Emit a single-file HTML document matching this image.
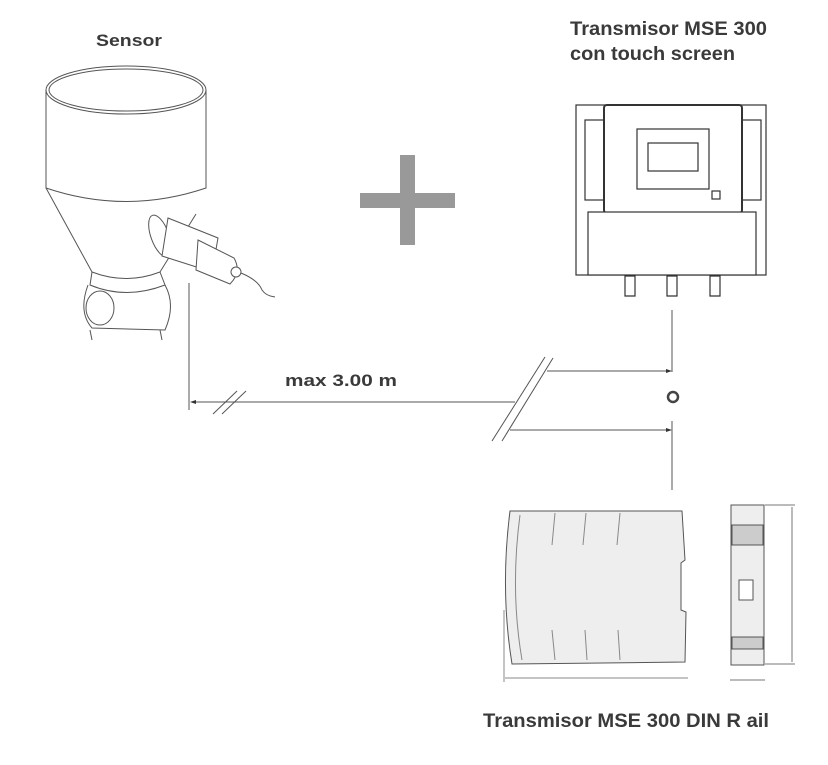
<!DOCTYPE html>
<html><head><meta charset="utf-8"><style>
html,body{margin:0;padding:0;background:#fff;}
svg{display:block;}
text{font-family:"Liberation Sans",sans-serif;font-weight:bold;fill:#3a3a3a;}
</style></head><body>
<svg width="828" height="765" viewBox="0 0 828 765" xmlns="http://www.w3.org/2000/svg">
<text x="96" y="46" font-size="17" textLength="66" lengthAdjust="spacingAndGlyphs">Sensor</text>
<text x="570" y="35" font-size="19" textLength="197" lengthAdjust="spacingAndGlyphs">Transmisor MSE 300</text>
<text x="570" y="60" font-size="19" textLength="165" lengthAdjust="spacingAndGlyphs">con touch screen</text>
<text x="483" y="727" font-size="19" textLength="286" lengthAdjust="spacingAndGlyphs">Transmisor MSE 300 DIN R ail</text>
<text x="285" y="386" font-size="17" textLength="112" lengthAdjust="spacingAndGlyphs">max 3.00 m</text>

<!-- plus -->
<rect x="400" y="155" width="15" height="90" fill="#999"/>
<rect x="360" y="193" width="95" height="15" fill="#999"/>

<!-- sensor -->
<g fill="none" stroke="#555" stroke-width="1">
<path d="M46 90 L46 188 Q126 215 206 188 L206 90" />
<path d="M46 188 L92 272 Q126 285 160 272 L196 214"/>
<ellipse cx="126" cy="90" rx="80" ry="24"/>
<ellipse cx="126" cy="90" rx="77" ry="21"/>
<path d="M92 272 L90 285 Q126 300 165 285 L160 272"/>
<path d="M88 285 Q78 312 92 328 L165 330 Q176 305 165 285"/>
<path d="M90 330 L92 340 M160 330 L162 340"/>
<ellipse cx="100" cy="308" rx="14" ry="17"/>
</g>
<g fill="#fff" stroke="#555" stroke-width="1">
<ellipse cx="160" cy="236" rx="9" ry="22" transform="rotate(-20 160 236)"/>
<path d="M168 218 L218 238 L212 272 L162 256 Z"/>
<path d="M198 240 L234 258 Q242 272 230 284 L196 270 Z"/>
<circle cx="236" cy="272" r="5"/>
<path d="M241 273 Q258 280 262 290 Q266 296 275 297" fill="none"/>
</g>
<line x1="189" y1="283" x2="189" y2="410" stroke="#555"/>

<!-- transmitter wall -->
<g fill="#fff" stroke="#333" stroke-width="1.2">
<rect x="576" y="105" width="190" height="170" fill="#fff"/>
<rect x="585" y="120" width="20" height="80"/>
<rect x="741" y="120" width="20" height="80"/>
<rect x="604" y="105" width="138" height="108" rx="3" stroke-width="2"/>
<rect x="637" y="129" width="72" height="60"/>
<rect x="648" y="143" width="50" height="28"/>
<rect x="712" y="191" width="8" height="8"/>
<rect x="588" y="212" width="168" height="63"/>
<path d="M625 276 h10 v20 h-10 z M667 276 h10 v20 h-10 z M710 276 h10 v20 h-10 z"/>
</g>
<line x1="672" y1="310" x2="672" y2="372" stroke="#555"/>
<line x1="672" y1="421" x2="672" y2="490" stroke="#555"/>
<circle cx="673" cy="397" r="5" fill="none" stroke="#444" stroke-width="2.5"/>

<!-- dimension lines -->
<g stroke="#555" stroke-width="1" fill="none">
<line x1="192" y1="402" x2="515" y2="402"/>
<line x1="213" y1="414" x2="237" y2="391"/>
<line x1="222" y1="414" x2="246" y2="391"/>
<line x1="492" y1="441" x2="545" y2="357"/>
<line x1="502" y1="441" x2="553" y2="358"/>
<line x1="547" y1="371" x2="668" y2="371"/>
<line x1="510" y1="430" x2="668" y2="430"/>
</g>
<path d="M190 402 l6 -2 v4 z M672 371 l-6 -2 v4 z M672 430 l-6 -2 v4 z" fill="#333"/>

<!-- DIN rail -->
<g stroke="#555" stroke-width="1" fill="#eee">
<path d="M510 511 L682 511 L685 560 L681 563 L681 610 L686 612 L685 662 L512 664 Q500 590 510 511 Z"/>
</g>
<g stroke="#888" fill="none">
<path d="M520 515 Q510 590 522 660 M555 513 L552 545 M586 513 L583 545 M620 513 L617 545 M552 630 L555 660 M585 630 L587 660 M618 630 L620 660"/>
<line x1="505" y1="678" x2="688" y2="678"/>
<line x1="504" y1="610" x2="504" y2="682"/>
</g>
<g stroke="#555" fill="#eee">
<rect x="731" y="505" width="33" height="160"/>
<rect x="732" y="525" width="31" height="20" fill="#ccc"/>
<rect x="732" y="637" width="31" height="12" fill="#ccc"/>
<rect x="739" y="580" width="14" height="20" fill="#fff"/>
</g>
<g stroke="#777" fill="none">
<line x1="765" y1="505" x2="795" y2="505"/>
<line x1="765" y1="664" x2="795" y2="664"/>
<line x1="792" y1="507" x2="792" y2="662"/>
<line x1="730" y1="680" x2="765" y2="680"/>
</g>
</svg>
</body></html>
